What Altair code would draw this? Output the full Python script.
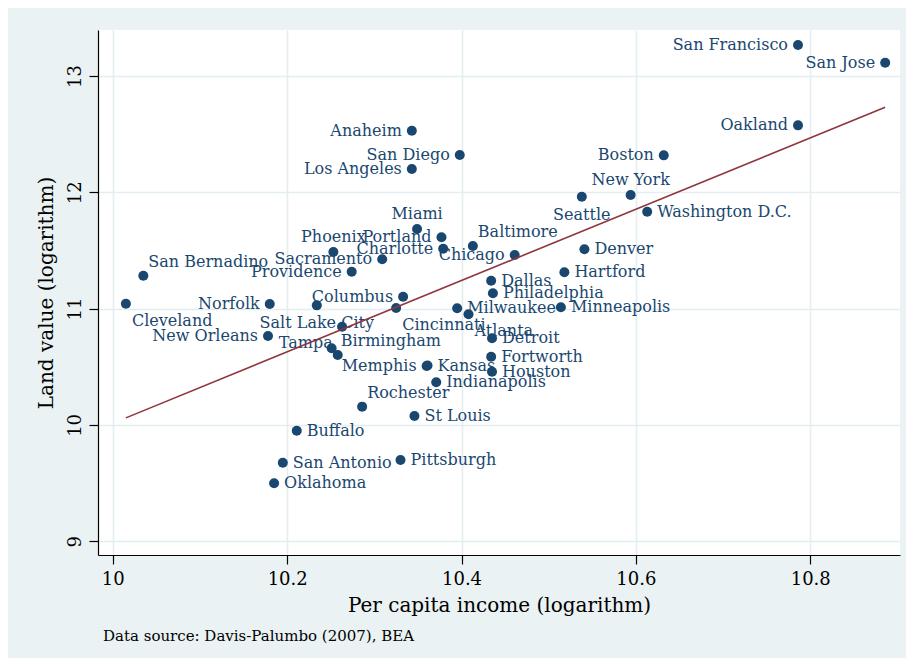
import altair as alt
import pandas as pd

# ---- data ----
cities = [
    "San Francisco", "San Jose", "Oakland", "Boston", "New York", "Seattle",
    "Washington D.C.", "Anaheim", "San Diego", "Los Angeles", "Miami", "Portland",
    "Charlotte", "Baltimore", "Chicago", "Phoenix", "Sacramento", "Providence",
    "San Bernadino", "Cleveland", "Norfolk", "Salt Lake City", "Columbus",
    "Cincinnati", "", "New Orleans", "Tampa", "Birmingham", "Milwaukee",
    "Atlanta", "Dallas", "Philadelphia", "Denver", "Hartford", "Minneapolis",
    "Detroit", "Fortworth", "Houston", "Memphis", "Kansas", "Indianapolis",
    "Rochester", "St Louis", "Buffalo", "San Antonio", "Pittsburgh", "Oklahoma",
]
income = [
    10.786, 10.886, 10.786, 10.632, 10.594, 10.538,
    10.613, 10.343, 10.398, 10.343, 10.349, 10.377,
    10.379, 10.413, 10.461, 10.253, 10.309, 10.274,
    10.035, 10.015, 10.180, 10.234, 10.333,
    10.325, 10.263, 10.178, 10.258, 10.251, 10.395,
    10.408, 10.434, 10.436, 10.541, 10.518, 10.514,
    10.435, 10.434, 10.435, 10.360, 10.361, 10.371,
    10.286, 10.346, 10.211, 10.195, 10.330, 10.185,
]
land = [
    13.267, 13.114, 12.576, 12.318, 11.977, 11.962,
    11.833, 12.530, 12.321, 12.200, 11.684, 11.613,
    11.515, 11.538, 11.461, 11.487, 11.424, 11.317,
    11.283, 11.042, 11.040, 11.028, 11.102,
    11.005, 10.844, 10.764, 10.601, 10.659, 11.003,
    10.951, 11.240, 11.132, 11.510, 11.312, 11.011,
    10.745, 10.586, 10.457, 10.506, 10.510, 10.366,
    10.157, 10.077, 9.950, 9.675, 9.698, 9.498,
]
x_ticks = [10, 10.2, 10.4, 10.6, 10.8]
y_ticks = [9, 10, 11, 12, 13]

# label clock positions (as in Stata's mlabvposition)
label_pos = {
    "San Francisco": 9, "San Jose": 9, "Oakland": 9, "Boston": 9, "New York": 12,
    "Seattle": 6, "Washington D.C.": 3, "Anaheim": 9, "San Diego": 9,
    "Los Angeles": 9, "Miami": 12, "Portland": 9, "Charlotte": 9, "Baltimore": 1,
    "Chicago": 9, "Phoenix": 12, "Sacramento": 9, "Providence": 9,
    "San Bernadino": 1, "Cleveland": 5, "Norfolk": 9, "Salt Lake City": 6,
    "Columbus": 9, "Cincinnati": 5, "New Orleans": 9, "Tampa": 11,
    "Birmingham": 2, "Milwaukee": 3, "Atlanta": 5, "Dallas": 3,
    "Philadelphia": 3, "Denver": 3, "Hartford": 3, "Minneapolis": 3,
    "Detroit": 3, "Fortworth": 3, "Houston": 3, "Memphis": 9, "Kansas": 3,
    "Indianapolis": 3, "Rochester": 1, "St Louis": 3, "Buffalo": 3,
    "San Antonio": 3, "Pittsburgh": 3, "Oklahoma": 3,
}
# clock position -> (dx, dy, align)
clock = {
    3: (10, 0, "left"), 9: (-10, 0, "right"), 12: (0, -15, "center"),
    6: (0, 18, "center"), 1: (5, -14, "left"), 5: (6, 17, "left"),
    2: (9, -7, "left"), 11: (-5, -12, "right"),
}

NAVY = "#1A476F"
MAROON = "#90353B"
BG = "#EAF2F3"
FONT = "DejaVu Serif"

df = pd.DataFrame({"city": cities, "income": income, "land": land})
df["pos"] = [label_pos.get(c, 0) for c in cities]

xenc = alt.X(
    "income:Q",
    scale=alt.Scale(domain=[9.983, 10.903], nice=False, zero=False),
    axis=alt.Axis(values=x_ticks, format=".1~f", title="Per capita income (logarithm)"),
)
yenc = alt.Y(
    "land:Q",
    scale=alt.Scale(domain=[8.881, 13.396], nice=False, zero=False),
    axis=alt.Axis(values=y_ticks, format="d", title="Land value (logarithm)",
                  labelAngle=270, labelAlign="center", labelBaseline="alphabetic"),
)

base = alt.Chart(df)
points = base.mark_circle(size=100, color=NAVY, opacity=1).encode(x=xenc, y=yenc)

label_layers = []
for p, (dx, dy, al) in clock.items():
    label_layers.append(
        base.transform_filter(alt.datum.pos == p)
        .mark_text(dx=dx, dy=dy, align=al, baseline="middle", font=FONT,
                   fontSize=16, color=NAVY)
        .encode(x=xenc, y=yenc, text="city:N")
    )

fit = (
    base.transform_regression("income", "land")
    .mark_line(color=MAROON, strokeWidth=1.6)
    .encode(x=xenc, y=yenc)
)

chart = (
    alt.layer(points, *label_layers, fit)
    .properties(
        width=802, height=525,
        autosize=alt.AutoSizeParams(type="none"),
        padding={"left": 90, "top": 22, "right": 6, "bottom": 103},
        background=BG,
        title=alt.TitleParams(
            "Data source: Davis-Palumbo (2007), BEA", orient="bottom", anchor="start",
            frame="group", font=FONT, fontSize=15, fontWeight="normal", color="black",
            dx=5, offset=14,
        ),
    )
    .configure_view(fill="white", strokeWidth=0)
    .configure_axis(
        domainColor="black", domainWidth=1.2, tickColor="black", tickSize=9,
        tickWidth=1.2, gridColor="#E4EEF0", gridWidth=1.6,
        labelFont=FONT, labelFontSize=18, labelColor="black", labelPadding=6,
        titleFont=FONT, titleFontSize=20, titleFontWeight="normal", titleColor="black",
    )
    .configure_axisX(titlePadding=7)
    .configure_axisY(titlePadding=10, labelPadding=9)
)

chart.save("out.html", embed_options={"renderer": "svg", "actions": False})
